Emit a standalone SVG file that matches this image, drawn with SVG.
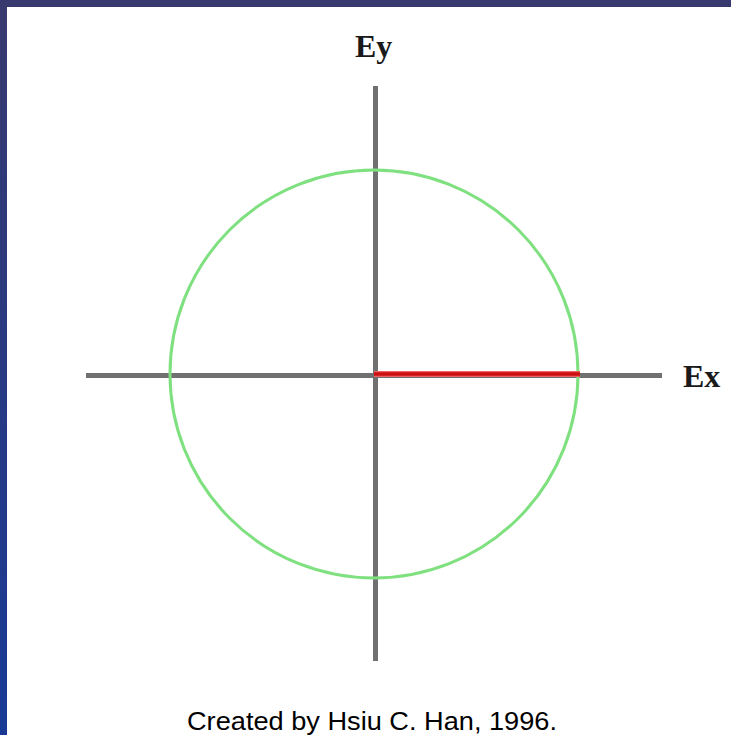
<svg xmlns="http://www.w3.org/2000/svg" width="731" height="735" viewBox="0 0 731 735">
  <defs>
    <linearGradient id="bg" x1="0" y1="0" x2="0" y2="1">
      <stop offset="0" stop-color="#38396e"/>
      <stop offset="1" stop-color="#183a96"/>
    </linearGradient>
    <style>
      .axis { stroke: #707070; stroke-width: 5; fill: none; }
      .lbl { font-family: "Liberation Serif", "Times New Roman", serif; font-size: 32px; fill: #1a1a1a; }
      .cap { font-family: "Liberation Sans", Arial, sans-serif; font-size: 26px; fill: #000; }
    </style>
  </defs>
  <rect x="0" y="0" width="731" height="735" fill="url(#bg)"/>
  <rect x="7" y="7" width="724" height="728" fill="#ffffff"/>
  <g id="connectors">
    <line class="axis" x1="375.5" y1="86" x2="375.5" y2="661"/>
    <line class="axis" x1="86" y1="375.5" x2="662" y2="375.5"/>
  </g>
  <g id="circle">
    <circle cx="374" cy="374" r="204" fill="none" stroke="#7fe07f" stroke-width="3"/>
  </g>
  <g id="vector">
    <line x1="374" y1="374" x2="580" y2="374" stroke="#f06060" stroke-width="6"/>
    <line x1="374" y1="374" x2="580" y2="374" stroke="#cc1010" stroke-width="3.5"/>
  </g>
  <g id="label-ey">
    <text class="lbl" x="355" y="57" font-weight="bold">Ey</text>
  </g>
  <g id="label-ex">
    <text class="lbl" x="683" y="387" font-weight="bold">Ex</text>
  </g>
  <g id="caption">
    <text class="cap" x="187" y="730" textLength="370" lengthAdjust="spacingAndGlyphs">Created by Hsiu C. Han, 1996.</text>
  </g>
</svg>
